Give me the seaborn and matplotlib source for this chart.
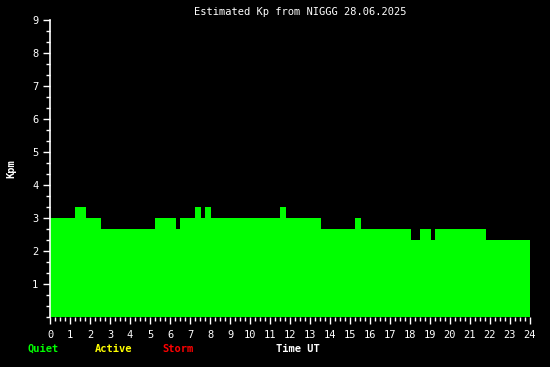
import matplotlib
matplotlib.use("Agg")
import matplotlib.pyplot as plt
import numpy as np
import pandas as pd
import seaborn as sns
from matplotlib.ticker import MultipleLocator, FixedLocator

# Kp step data (hours UT)
edges = [0, 1.25, 1.8, 2.55, 5.25, 6.3, 6.5, 7.25, 7.55, 7.75, 8.05, 11.5, 11.8,
         13.55, 15.25, 15.55, 18.05, 18.5, 19.05, 19.25, 21.8, 24]
kp_values = [3, 3.33, 3, 2.67, 3, 2.67, 3, 3.33, 3, 3.33, 3, 3.33, 3,
             2.67, 3, 2.67, 2.33, 2.67, 2.33, 2.67, 2.33]
x_ticks = list(range(0, 25))
y_ticks = list(range(1, 10))
title = "Estimated Kp from NIGGG 28.06.2025"

sns.set_theme(style="dark")
plt.rcParams['font.family'] = ['DejaVu Sans Mono']

mids = [(a + b) / 2 for a, b in zip(edges[:-1], edges[1:])]
df = pd.DataFrame({"t": mids, "kp": kp_values})

fig = plt.figure(figsize=(5.5, 3.67), dpi=100, facecolor="black")
ax = fig.add_axes([50 / 550, 50 / 367, 480 / 550, 297 / 367])
ax.set_facecolor("black")

sns.histplot(data=df, x="t", weights="kp", bins=edges, element="step", fill=True,
             color="#00ff00", alpha=1, linewidth=0, ax=ax)

ax.set_xlim(0, 24)
ax.set_ylim(0, 9)
ax.grid(False)
for s in ["top", "right", "bottom"]:
    ax.spines[s].set_visible(False)
ax.spines["left"].set_color("white")
ax.spines["left"].set_linewidth(1.2)

ax.xaxis.set_major_locator(FixedLocator(x_ticks))
ax.xaxis.set_minor_locator(MultipleLocator(0.25))
ax.yaxis.set_major_locator(FixedLocator(y_ticks))
ax.yaxis.set_minor_locator(MultipleLocator(1 / 3))
ax.set_xticklabels([str(v) for v in x_ticks])
ax.set_yticklabels([str(v) for v in y_ticks])

ax.tick_params(axis="both", which="both", colors="white", labelcolor="white",
               labelsize=7.5, direction="out")
ax.tick_params(axis="x", which="major", length=5, width=1, pad=4, bottom=True)
ax.tick_params(axis="x", which="minor", length=3, width=1, bottom=True)
ax.tick_params(axis="y", which="major", length=5, width=1, pad=3.5, left=True)
ax.tick_params(axis="y", which="minor", length=3, width=1, left=True)

ax.set_xlabel("")
ax.set_ylabel("Kpm", color="white", fontsize=7.5, fontweight="bold", labelpad=11)
ax.set_title("")

fig.text(300 / 550, 1 - 12 / 367, title, color="white", fontsize=7.5,
         ha="center", va="center")
fig.text(28 / 550, 1 - 349 / 367, "Quiet", color="#00ff00", fontsize=7.5,
         fontweight="bold", ha="left", va="center")
fig.text(95 / 550, 1 - 349 / 367, "Active", color="#ffff00", fontsize=7.5,
         fontweight="bold", ha="left", va="center")
fig.text(162 / 550, 1 - 349 / 367, "Storm", color="#ff0000", fontsize=7.5,
         fontweight="bold", ha="left", va="center")
fig.text(276 / 550, 1 - 349 / 367, "Time UT", color="white", fontsize=7.5,
         fontweight="bold", ha="left", va="center")

fig.savefig("out.png", dpi=100, facecolor="black")
